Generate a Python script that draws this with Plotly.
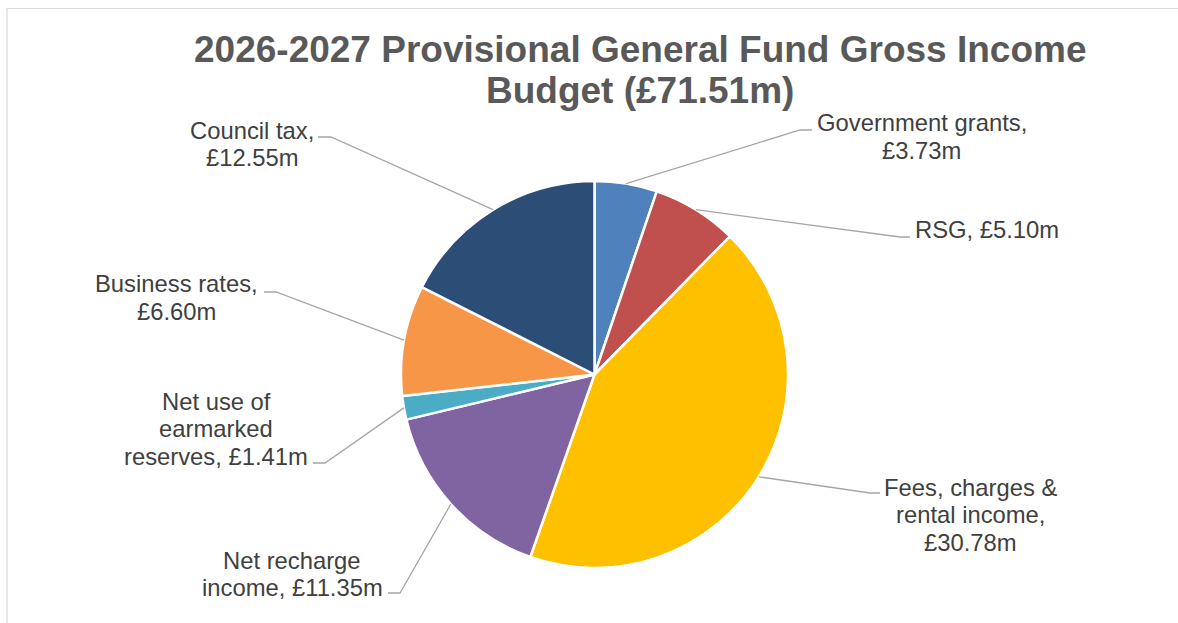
import math
import plotly.graph_objects as go

# Income sources, in order clockwise from 12 o'clock
categories = [
    "Government grants",
    "RSG",
    "Fees, charges & rental income",
    "Net recharge income",
    "Net use of earmarked reserves",
    "Business rates",
    "Council tax",
]
values_m = [3.73, 5.10, 30.78, 11.35, 1.41, 6.60, 12.55]
colors = ["#4F81BD", "#C0504D", "#FFC000", "#8064A2", "#4BACC6", "#F79646", "#2C4D75"]

# Data label text, broken into lines
label_lines = [
    ["Government grants,", "£3.73m"],
    ["RSG, £5.10m"],
    ["Fees, charges &", "rental income,", "£30.78m"],
    ["Net recharge", "income, £11.35m"],
    ["Net use of", "earmarked", "reserves, £1.41m"],
    ["Business rates,", "£6.60m"],
    ["Council tax,", "£12.55m"],
]

title_lines = ["2026-2027 Provisional General Fund Gross Income", "Budget (£71.51m)"]

# ---- layout (pixels) ----
W, H = 1178, 623
CX, CY, R = 594.5, 374.5, 193.5
LINE_H = 27.5

# label placement: text centre x, first-line centre y, elbow point, end of leader
label_pos = [
    dict(tx=922, ty=123, ex=800, ey=130, lx=812),
    dict(tx=987, ty=230, ex=900, ey=237, lx=910),
    dict(tx=971, ty=487, ex=870, ey=493, lx=880),
    dict(tx=292, ty=560, ex=400, ey=593, lx=388),
    dict(tx=216, ty=401, ex=325, ey=463, lx=313),
    dict(tx=176, ty=284, ex=276, ey=292, lx=264),
    dict(tx=252, ty=130, ex=331, ey=137, lx=318),
]


def px(x):
    return x / W


def py(y):
    return 1 - y / H


fig = go.Figure()
fig.add_trace(go.Pie(
    labels=categories,
    values=values_m,
    sort=False,
    direction="clockwise",
    rotation=0,
    marker=dict(colors=colors, line=dict(color="white", width=2.5)),
    textinfo="none",
    hovertemplate="%{label}: £%{value:.2f}m<extra></extra>",
    domain=dict(x=[px(CX - R), px(CX + R)], y=[py(CY + R), py(CY - R)]),
    showlegend=False,
))

shapes = []
annotations = []

# chart frame
shapes.append(dict(type="rect", xref="paper", yref="paper",
                   x0=px(7), x1=1.05, y0=py(8.5), y1=-0.05,
                   line=dict(color="#D9D9D9", width=1.2), fillcolor="rgba(0,0,0,0)",
                   layer="below"))

# leader lines from each slice's mid-angle to its label
total = sum(values_m)
cum = 0.0
for v, pos in zip(values_m, label_pos):
    mid = (cum + v / 2) / total * 2 * math.pi
    cum += v
    sx = CX + R * math.sin(mid)
    sy = CY - R * math.cos(mid)
    path = (f"M {px(sx)} {py(sy)} L {px(pos['ex'])} {py(pos['ey'])} "
            f"L {px(pos['lx'])} {py(pos['ey'])}")
    shapes.append(dict(type="path", xref="paper", yref="paper", path=path,
                       line=dict(color="#A6A6A6", width=1.3)))

# data labels
for lines, pos in zip(label_lines, label_pos):
    for i, t in enumerate(lines):
        annotations.append(dict(
            text=t, xref="paper", yref="paper",
            x=px(pos["tx"]), y=py(pos["ty"] + i * LINE_H),
            xanchor="center", yanchor="middle", showarrow=False,
            font=dict(family="Liberation Sans, Arial", size=23.8, color="#404040"),
        ))

# title
for i, t in enumerate(title_lines):
    annotations.append(dict(
        text=f"<b>{t}</b>", xref="paper", yref="paper",
        x=px(640), y=py(50 + i * 40),
        xanchor="center", yanchor="middle", showarrow=False,
        font=dict(family="Liberation Sans, Arial", size=37, color="#595959"),
    ))

fig.update_layout(
    width=W, height=H,
    margin=dict(l=0, r=0, t=0, b=0),
    paper_bgcolor="white", plot_bgcolor="white",
    shapes=shapes, annotations=annotations,
)

fig.write_html("out.html")
